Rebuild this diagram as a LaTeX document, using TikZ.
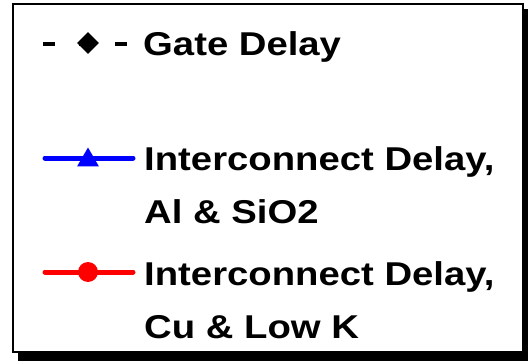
\documentclass[tikz,border=0pt]{standalone}
\usepackage{fontspec}
\setmainfont[FakeStretch=1.16]{Liberation Sans}
\usepackage{tikz}
\usetikzlibrary{
    arrows.meta,
    positioning,
    shapes.geometric
}
\tikzset{
  legtext/.style  = {anchor=base west, inner sep=0pt, align=left,
                     font=\fontsize{33}{53}\selectfont\bfseries},
  gateline/.style = {line width=4.5pt, dash pattern=on 12pt off 24pt},
  blueline/.style = {line width=5pt, blue, line cap=round},
  redline/.style  = {line width=5pt, red, line cap=round},
  tri/.style      = {regular polygon, regular polygon sides=3, fill=blue,
                     inner sep=0pt, minimum size=25pt, yshift=-2pt},
  dot/.style      = {circle, fill=red, inner sep=0pt, minimum size=20pt},
  dia/.style      = {diamond, fill=black, inner sep=0pt,
                     minimum width=22pt, minimum height=22pt}
}

\begin{document}
\begin{tikzpicture}[x=1pt,y=-1pt]
\useasboundingbox (0,0) rectangle (528,361);
% box with drop shadow
\fill[black] (18,9) rectangle (528,361);
\draw[line width=2pt, fill=white] (13,4) rectangle (523,352);

% gate delay
\coordinate (g1) at (43,44);
\coordinate (g2) at (127,44);
\draw[gateline] (g1) -- (g2);
\node[dia] (gmark) at (88,43) {};
\node[legtext] (gate) at (143,56) {Gate Delay};

% Al & SiO2
\coordinate (b1) at (45,158);
\coordinate (b2) at (133,158);
\draw[blueline] (b1) -- (b2);
\node[tri] (bmark) at (88,158) {};
\node[legtext] (alsio) at (144,223) {Interconnect Delay,\\Al \& SiO2};

% Cu & Low K
\coordinate (r1) at (45,272);
\coordinate (r2) at (133,272);
\draw[redline] (r1) -- (r2);
\node[dot] (rmark) at (88,272) {};
\node[legtext] (culowk) at (144,338) {Interconnect Delay,\\Cu \& Low K};
\end{tikzpicture}
\end{document}
